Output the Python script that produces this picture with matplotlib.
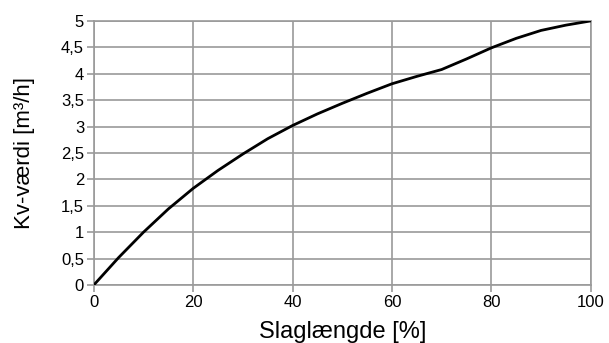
import matplotlib
matplotlib.use('Agg')
import matplotlib.pyplot as plt

# stroke [%] vs Kv value [m3/h]
slag = [0, 5, 10, 15, 20, 25, 30, 35, 40, 45, 50, 55, 60, 65, 70, 75, 80, 85, 90, 95, 100]
kv = [0, 0.52, 1.0, 1.44, 1.83, 2.17, 2.48, 2.77, 3.02, 3.24, 3.44, 3.63, 3.81, 3.95, 4.08, 4.28, 4.49, 4.67, 4.82, 4.92, 5.0]

xticks = [0, 20, 40, 60, 80, 100]
yticks = [0, 0.5, 1, 1.5, 2, 2.5, 3, 3.5, 4, 4.5, 5]
ylabels = ['0', '0,5', '1', '1,5', '2', '2,5', '3', '3,5', '4', '4,5', '5']

plt.rcParams['font.family'] = ['Liberation Sans', 'DejaVu Sans']

fig = plt.figure(figsize=(6.09, 3.43), dpi=100)
ax = fig.add_axes([0.154, 0.169, 0.816, 0.770])

ax.plot(slag, kv, color='black', lw=2, solid_joinstyle='round', zorder=3)

ax.set_xlim(0, 100)
ax.set_ylim(0, 5)
ax.set_xticks(xticks)
ax.set_yticks(yticks)
ax.set_yticklabels(ylabels)
ax.grid(True, color='#9a9a9a', lw=1.2)
for s in ax.spines.values():
    s.set_color('#9a9a9a')
    s.set_linewidth(1.2)
ax.tick_params(axis='both', colors='#9a9a9a', labelcolor='black', labelsize=12,
               length=5, width=1.2, pad=2)

ax.set_xlabel('Slaglængde [%]', fontsize=17, labelpad=8)
ax.set_ylabel('Kv-værdi [m³/h]', fontsize=16, labelpad=19)

fig.savefig('out.png', dpi=100)
